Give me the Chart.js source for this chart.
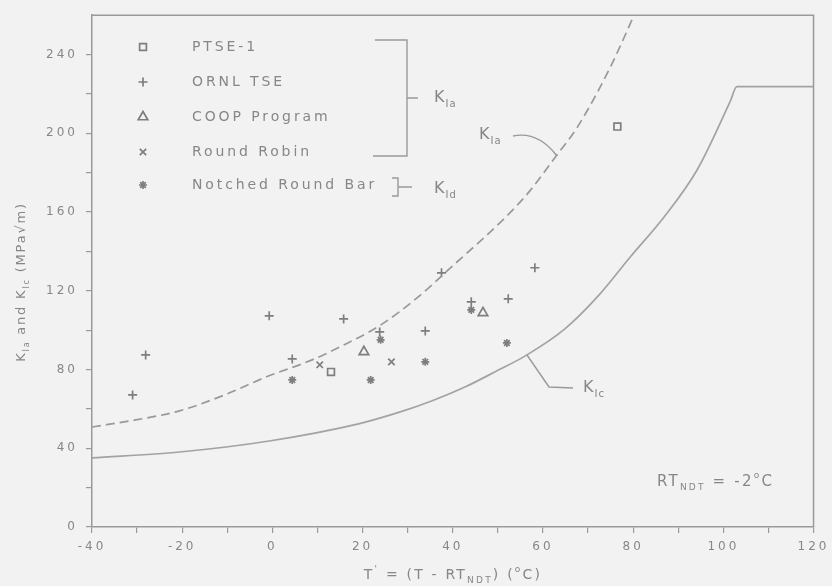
<!DOCTYPE html>
<html><head><meta charset="utf-8">
<script src="https://cdn.jsdelivr.net/npm/chart.js@4"></script>
<style>html,body{margin:0;padding:0;background:#f2f2f2;}#wrap{width:832px;height:586px;position:relative}</style>
</head><body><div id="wrap"><canvas id="c" width="832" height="586"></canvas></div>
<script>
// ---- data ----
const kicT = [-40, -20.6, -0.7, 19.1, 28.0, 35.3, 42.8, 50.0, 56.0, 64.8, 72.1, 79.4, 86.9, 94.2, 101.5, 103.0, 120];
const kicK = [35.1, 38.1, 43.7, 52.4, 58.2, 64.0, 71.2, 79.6, 86.8, 100.5, 117.0, 137.3, 157.6, 181.5, 216.1, 223.7, 223.7];
const kiaT = [-40, -30.3, -20.6, -10.6, -1.3, 8.8, 16.3, 23.6, 32.4, 37.5, 56.0, 62.8, 67.7, 75.0, 80.2];
const kiaK = [50.8, 54.4, 59.0, 67.1, 76.3, 84.9, 93.0, 102.0, 117.0, 127.5, 167.8, 188.1, 203.4, 233.9, 260];
const ptseT = [13.0, 76.5];
const ptseK = [78.8, 203.4];
const ornlT = [-31.0, -28.1, -0.7, 15.8, 4.4, 23.8, 33.9, 37.5, 44.1, 52.3, 58.2];
const ornlK = [67.1, 87.4, 107.3, 105.7, 85.4, 99.1, 99.6, 129.1, 114.4, 115.9, 131.7];
const coopT = [20.3, 46.7];
const coopK = [89.0, 108.8];
const rrT = [10.5, 26.4];
const rrK = [82.4, 83.9];
const nrbT = [4.4, 21.8, 24.0, 33.9, 44.1, 52.0];
const nrbK = [74.7, 74.7, 95.1, 83.9, 110.3, 93.5];
const legendLabels = ['PTSE-1', 'ORNL TSE', 'COOP Program', 'Round Robin', 'Notched Round Bar'];
const xMin = -40, xMax = 120, xStep = 10, xLabelEvery = 20;
const yMin = 0, yMax = 260, yStep = 20, yLabelEvery = 40, yLabelMax = 240;

// ---- styles ----
const BG = '#f2f2f2', LINE = '#9a9a9a', TEXT = '#878787', MARK = '#7e7e7e';
const FONT = '"DejaVu Sans", sans-serif';
const pts = (T, K) => T.map((t, i) => ({x: t, y: K[i]}));

const markerStyles = [
  {pointStyle: 'rect', radius: 4.8},
  {pointStyle: 'cross', radius: 4.5},
  {pointStyle: 'triangle', radius: 5.5},
  {pointStyle: 'crossRot', radius: 4.5},
  {pointStyle: 'star', radius: 4}
];
const seriesT = [ptseT, ornlT, coopT, rrT, nrbT];
const seriesK = [ptseK, ornlK, coopK, rrK, nrbK];

const datasets = [
  {label: 'KIc', data: pts(kicT, kicK), showLine: true, pointRadius: 0, borderColor: '#a3a3a3', borderWidth: 1.7,
   cubicInterpolationMode: 'monotone', tension: 0.4, fill: false},
  {label: 'KIa', data: pts(kiaT, kiaK), showLine: true, pointRadius: 0, borderColor: '#999999', borderWidth: 1.7,
   borderDash: [9, 5], cubicInterpolationMode: 'monotone', tension: 0.4, fill: false}
];
legendLabels.forEach((lab, i) => {
  datasets.push({label: lab, data: pts(seriesT[i], seriesK[i]), showLine: false,
    pointStyle: markerStyles[i].pointStyle, pointRadius: markerStyles[i].radius,
    pointBorderColor: MARK, pointBackgroundColor: 'rgba(0,0,0,0)', pointBorderWidth: 1.7});
});

function drawRich(ctx, x, y, parts, size, align, spacing) {
  ctx.save();
  ctx.letterSpacing = (spacing || 0) + 'px';
  ctx.textBaseline = 'middle';
  ctx.textAlign = 'left';
  const subSize = Math.round(size * 0.62);
  let total = 0;
  const widths = parts.map(p => {
    ctx.font = (p[1] ? subSize : size) + 'px ' + FONT;
    const w = ctx.measureText(p[0]).width; total += w; return w;
  });
  let cx = align === 'center' ? x - total / 2 : (align === 'right' ? x - total : x);
  parts.forEach((p, i) => {
    ctx.font = (p[1] ? subSize : size) + 'px ' + FONT;
    let dy = 0;
    if (p[1] === 1) dy = size * 0.38;
    if (p[1] === 2) dy = -size * 0.4;
    ctx.fillText(p[0], cx, y + dy);
    cx += widths[i];
  });
  ctx.restore();
}

const deco = {
  id: 'deco',
  beforeDraw(chart) {
    const ctx = chart.ctx;
    ctx.save();
    ctx.fillStyle = BG;
    ctx.fillRect(0, 0, chart.width, chart.height);
    ctx.restore();
    ctx.letterSpacing = '3px';
  },
  afterDraw(chart) {
    const ctx = chart.ctx;
    ctx.letterSpacing = '0px';
    const a = chart.chartArea;
    ctx.save();
    ctx.strokeStyle = LINE; ctx.lineWidth = 1.5;
    ctx.beginPath();
    ctx.moveTo(a.left, a.top); ctx.lineTo(a.right, a.top); ctx.lineTo(a.right, a.bottom);
    ctx.stroke();

    // legend
    const lx = 143, tx = 192, rows = [47, 82, 117, 152, 185];
    legendLabels.forEach((lab, i) => {
      ctx.strokeStyle = MARK; ctx.fillStyle = 'rgba(0,0,0,0)'; ctx.lineWidth = 1.7;
      Chart.helpers.drawPoint(ctx, {pointStyle: markerStyles[i].pointStyle, radius: markerStyles[i].radius, rotation: 0, borderWidth: 1.7}, lx, rows[i]);
      ctx.fillStyle = TEXT;
      drawRich(ctx, tx, rows[i], [[lab, 0]], 14, 'left', 2.9);
    });

    // brackets
    ctx.strokeStyle = LINE; ctx.lineWidth = 1.4;
    ctx.beginPath();
    ctx.moveTo(375, 40); ctx.lineTo(407, 40); ctx.lineTo(407, 156); ctx.lineTo(373, 156);
    ctx.moveTo(407, 98); ctx.lineTo(418, 98);
    ctx.moveTo(392, 178); ctx.lineTo(398, 178); ctx.lineTo(398, 196); ctx.lineTo(392, 196);
    ctx.moveTo(398, 187); ctx.lineTo(412, 187);
    // leader to dashed curve
    ctx.moveTo(513, 136); ctx.quadraticCurveTo(538, 131, 557, 156);
    // leader to solid curve
    ctx.moveTo(527, 355); ctx.lineTo(549, 387); ctx.lineTo(573, 388);
    ctx.stroke();

    ctx.fillStyle = TEXT;
    drawRich(ctx, 434, 98, [['K', 0], ['Ia', 1]], 16, 'left', 1);
    drawRich(ctx, 434, 189, [['K', 0], ['Id', 1]], 16, 'left', 1);
    drawRich(ctx, 479, 135, [['K', 0], ['Ia', 1]], 16, 'left', 1);
    drawRich(ctx, 583, 388, [['K', 0], ['Ic', 1]], 16, 'left', 1);
    drawRich(ctx, 657, 482, [['RT', 0], ['NDT', 1], [' = -2', 0], ['o', 2], ['C', 0]], 15, 'left', 2.2);

    // axis titles
    drawRich(ctx, 453, 575, [['T', 0], ["'", 2], [' = (T - RT', 0], ['NDT', 1], [') (', 0], ['o', 2], ['C)', 0]], 14, 'center', 2.2);
    ctx.save();
    ctx.translate(22, 282); ctx.rotate(-Math.PI / 2);
    drawRich(ctx, 0, 0, [['K', 0], ['Ia', 1], [' and K', 0], ['Ic', 1], [' (MPa\u221Am)', 0]], 13, 'center', 1.8);
    ctx.restore();
    ctx.restore();
  }
};

new Chart(document.getElementById('c'), {
  type: 'scatter',
  data: {datasets},
  options: {
    responsive: false, animation: false, devicePixelRatio: 1,
    layout: {padding: {left: 0, right: 15, top: 15, bottom: 0}},
    plugins: {legend: {display: false}, tooltip: {enabled: false}},
    scales: {
      x: {
        type: 'linear', min: xMin, max: xMax,
        ticks: {stepSize: xStep, autoSkip: false, maxRotation: 0, color: TEXT, padding: 7,
          font: {family: FONT, size: 12}, callback: v => (v % xLabelEvery === 0 ? String(v) : '')},
        grid: {drawOnChartArea: false, drawTicks: true, tickLength: 6, color: LINE, lineWidth: 1.2},
        border: {display: true, color: LINE, width: 1.5},
        afterFit: s => { s.height = 59; }
      },
      y: {
        type: 'linear', min: yMin, max: yMax,
        afterBuildTicks: s => { s.ticks = s.ticks.filter(t => t.value <= yLabelMax); },
        ticks: {stepSize: yStep, autoSkip: false, color: TEXT, padding: 8,
          font: {family: FONT, size: 12}, callback: v => (v % yLabelEvery === 0 && v <= yLabelMax ? String(v) : '')},
        grid: {drawOnChartArea: false, drawTicks: true, tickLength: 6, color: LINE, lineWidth: 1.2},
        border: {display: true, color: LINE, width: 1.5},
        afterFit: s => { s.width = 92; }
      }
    }
  },
  plugins: [deco]
});
</script></body></html>
